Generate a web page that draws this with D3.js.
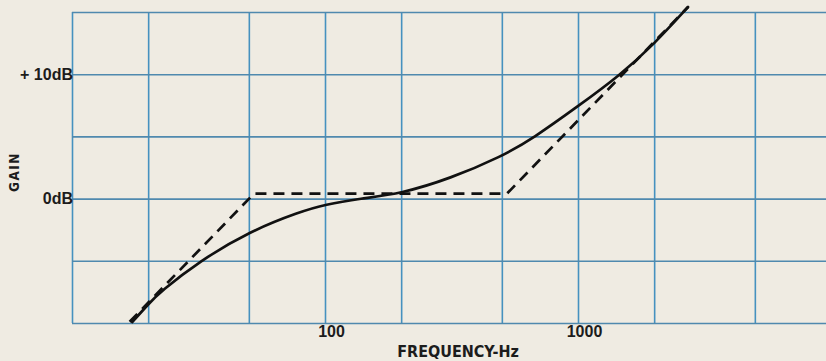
<!DOCTYPE html>
<html>
<head>
<meta charset="utf-8">
<script src="https://cdn.jsdelivr.net/npm/d3@7"></script>
<style>
  html, body { margin: 0; padding: 0; background: #efebe2; }
  svg { display: block; }
  text { font-family: 'Liberation Sans Narrow', 'DejaVu Sans Condensed', sans-serif; font-weight: bold; fill: #1c1c1c; }
</style>
</head>
<body>
<svg id="chart" width="826" height="361"></svg>
<script>
// ---- data (frequency in Hz, gain in dB) ----
const asymptoteFreq = [16.9, 52.4, 524, 2722];
const asymptoteGain = [-9.9, 0.4, 0.4, 15.4];

const responseFreq = [17.3, 20, 22.3, 32.1, 50, 79.7, 100, 137.5, 200, 312, 500, 664, 1000, 1466, 2000, 2722];
const responseGain = [-9.92, -8.5, -7.5, -5.0, -2.66, -1.05, -0.48, 0.0, 0.4, 1.61, 3.39, 4.84, 7.42, 9.92, 12.42, 15.4];

const freqGrid = [10, 20, 50, 100, 200, 500, 1000, 2000, 5000];
const gainGrid = [-10, -5, 0, 5, 10, 15];
const freqTickValues = [100, 1000];
const freqTickLabels = ["100", "1000"];
const gainTickValues = [10, 0];
const gainTickLabels = ["+ 10dB", "0dB"];
const xTitle = "FREQUENCY-Hz";
const yTitle = "GAIN";

// ---- layout ----
const svg = d3.select("#chart");
const plotLeft = 72, plotTop = 12, plotBottom = 323, plotRight = 826;
const x = d3.scaleLog().domain([10, 10000]).range([plotLeft, plotLeft + 3 * 253]);
const y = d3.scaleLinear().domain([-10, 15]).range([plotBottom, plotTop]);

// vertical grid lines
svg.append("g")
  .attr("transform", `translate(0,${plotBottom})`)
  .call(d3.axisBottom(x).tickValues(freqGrid).tickSize(-(plotBottom - plotTop)).tickFormat(""))
  .call(g => g.select(".domain").remove())
  .call(g => g.selectAll("line").attr("stroke", "#4591bf").attr("stroke-width", 1.6));

// horizontal grid lines
svg.append("g")
  .attr("transform", `translate(${plotLeft},0)`)
  .call(d3.axisLeft(y).tickValues(gainGrid).tickSize(-(plotRight - plotLeft)).tickFormat(""))
  .call(g => g.select(".domain").remove())
  .call(g => g.selectAll("line").attr("stroke", "#4f89ae").attr("stroke-width", 1.6));

// x tick labels
svg.append("g")
  .attr("transform", `translate(0,${plotBottom})`)
  .call(d3.axisBottom(x).tickValues(freqTickValues).tickSize(0).tickPadding(3)
        .tickFormat((d, i) => freqTickLabels[i]))
  .call(g => g.select(".domain").remove())
  .call(g => g.selectAll("text").attr("dx", 6).style("font-size", "16px")
        .style("font-family", "'Liberation Sans Narrow', sans-serif").style("font-weight", "bold").attr("fill", "#1c1c1c"));

// y tick labels
svg.append("g")
  .attr("transform", `translate(${plotLeft + 1},0)`)
  .call(d3.axisLeft(y).tickValues(gainTickValues).tickSize(0).tickPadding(0)
        .tickFormat((d, i) => gainTickLabels[i]))
  .call(g => g.select(".domain").remove())
  .call(g => g.selectAll("text").style("font-size", "16px")
        .style("font-family", "'Liberation Sans Narrow', sans-serif").style("font-weight", "bold").attr("fill", "#1c1c1c"));

// axis titles
svg.append("text")
  .attr("x", 458).attr("y", 357)
  .attr("text-anchor", "middle")
  .style("font-size", "16px")
  .text(xTitle);

svg.append("text")
  .attr("transform", "translate(19,172) rotate(-90)")
  .attr("text-anchor", "middle")
  .style("font-size", "13.5px")
  .style("letter-spacing", "1.5px")
  .text(yTitle);

// curves
const asymptote = asymptoteFreq.map((f, i) => [f, asymptoteGain[i]]);
const response = responseFreq.map((f, i) => [f, responseGain[i]]);

svg.append("path")
  .datum(asymptote)
  .attr("fill", "none")
  .attr("stroke", "#111")
  .attr("stroke-width", 2.7)
  .attr("stroke-dasharray", "11,7")
  .attr("d", d3.line().x(d => x(d[0])).y(d => y(d[1])));

svg.append("path")
  .datum(response)
  .attr("fill", "none")
  .attr("stroke", "#111")
  .attr("stroke-width", 2.7)
  .attr("stroke-linecap", "round")
  .attr("d", d3.line().x(d => x(d[0])).y(d => y(d[1])).curve(d3.curveBasis));
</script>
</body>
</html>
